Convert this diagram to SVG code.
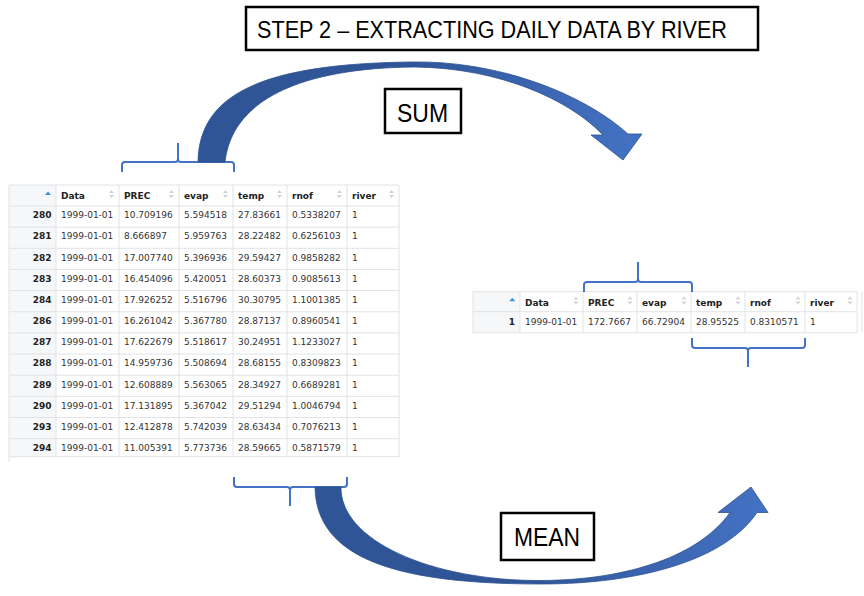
<svg xmlns="http://www.w3.org/2000/svg" width="864" height="596" viewBox="0 0 864 596">
<style>
.lbl{fill:#fff;stroke:#000;stroke-width:2.5}
.big{font-family:"Liberation Sans",Arial,sans-serif;fill:#000}
.grid{stroke:#e1e3e6;stroke-width:1;fill:none}
.idx{fill:#f5f7f9}
.t{font-family:"DejaVu Sans",Verdana,sans-serif;font-size:9px;fill:#333}
.h{font-family:"DejaVu Sans",Verdana,sans-serif;font-size:9px;font-weight:bold;fill:#222}
.n{font-family:"DejaVu Sans",Verdana,sans-serif;font-size:9px;font-weight:bold;fill:#222;text-anchor:end}
.br{fill:none;stroke:#4472C4;stroke-width:2;stroke-linejoin:round}
.srt{fill:#d0d3d6}
.asc{fill:#3b8fdc}
.arw{stroke:#2F528F;stroke-width:0.8}
</style>
<defs>
<linearGradient id="gTop" gradientUnits="userSpaceOnUse" x1="198" y1="0" x2="642" y2="0">
<stop offset="0" stop-color="#2F5597"/><stop offset="0.45" stop-color="#2F5597"/><stop offset="1" stop-color="#4472C4"/>
</linearGradient>
<linearGradient id="gBot" gradientUnits="userSpaceOnUse" x1="315" y1="0" x2="768" y2="0">
<stop offset="0" stop-color="#2F5597"/><stop offset="0.45" stop-color="#2F5597"/><stop offset="1" stop-color="#4472C4"/>
</linearGradient>
<g id="sortIcon"><path class="srt" d="M-2.5,-1 L2.5,-1 L0,-4 Z M-2.5,1 L2.5,1 L0,4 Z"/></g>
</defs>
<rect width="864" height="596" fill="#fff"/>

<g id="title">
<rect class="lbl" x="246" y="7" width="512" height="43"/>
<text class="big" x="257" y="38" font-size="23" textLength="470" lengthAdjust="spacingAndGlyphs">STEP 2 – EXTRACTING DAILY DATA BY RIVER</text>
</g>

<g id="table-left">
<rect x="9" y="185" width="390" height="271.7" fill="#fff"/>
<rect class="idx" x="9" y="185" width="47" height="271.7"/>
<path class="grid" d="M9,185 H399 M9,206 H399 M9,227.15 H399 M9,248.3 H399 M9,269.45 H399 M9,290.6 H399 M9,311.75 H399 M9,332.9 H399 M9,354.05 H399 M9,375.2 H399 M9,396.35 H399 M9,417.5 H399 M9,438.65 H399 M9,456.7 H399 M9,185 V461.7 M56,185 V456.7 M119,185 V456.7 M179,185 V456.7 M233,185 V456.7 M287,185 V456.7 M347,185 V456.7 M399,185 V456.7"/>
<path class="asc" d="M45,195 L51,195 L48,191.5 Z"/>
<use href="#sortIcon" x="111.5" y="194"/><use href="#sortIcon" x="171.5" y="194"/><use href="#sortIcon" x="225.5" y="194"/><use href="#sortIcon" x="279.5" y="194"/><use href="#sortIcon" x="339.5" y="194"/><use href="#sortIcon" x="391.5" y="194"/>
<text class="h" y="199.3"><tspan x="61">Data</tspan><tspan x="124">PREC</tspan><tspan x="184">evap</tspan><tspan x="238">temp</tspan><tspan x="292">rnof</tspan><tspan x="352">river</tspan></text>
<text class="n" x="51.5" y="218.3">280</text>
<text class="n" x="51.5" y="239.45">281</text>
<text class="n" x="51.5" y="260.6">282</text>
<text class="n" x="51.5" y="281.75">283</text>
<text class="n" x="51.5" y="302.9">284</text>
<text class="n" x="51.5" y="324.05">286</text>
<text class="n" x="51.5" y="345.2">287</text>
<text class="n" x="51.5" y="366.35">288</text>
<text class="n" x="51.5" y="387.5">289</text>
<text class="n" x="51.5" y="408.65">290</text>
<text class="n" x="51.5" y="429.8">293</text>
<text class="n" x="51.5" y="450.95">294</text>
<text class="t" y="218.3"><tspan x="61">1999-01-01</tspan><tspan x="124">10.709196</tspan><tspan x="184">5.594518</tspan><tspan x="238">27.83661</tspan><tspan x="292">0.5338207</tspan><tspan x="352">1</tspan></text>
<text class="t" y="239.45"><tspan x="61">1999-01-01</tspan><tspan x="124">8.666897</tspan><tspan x="184">5.959763</tspan><tspan x="238">28.22482</tspan><tspan x="292">0.6256103</tspan><tspan x="352">1</tspan></text>
<text class="t" y="260.6"><tspan x="61">1999-01-01</tspan><tspan x="124">17.007740</tspan><tspan x="184">5.396936</tspan><tspan x="238">29.59427</tspan><tspan x="292">0.9858282</tspan><tspan x="352">1</tspan></text>
<text class="t" y="281.75"><tspan x="61">1999-01-01</tspan><tspan x="124">16.454096</tspan><tspan x="184">5.420051</tspan><tspan x="238">28.60373</tspan><tspan x="292">0.9085613</tspan><tspan x="352">1</tspan></text>
<text class="t" y="302.9"><tspan x="61">1999-01-01</tspan><tspan x="124">17.926252</tspan><tspan x="184">5.516796</tspan><tspan x="238">30.30795</tspan><tspan x="292">1.1001385</tspan><tspan x="352">1</tspan></text>
<text class="t" y="324.05"><tspan x="61">1999-01-01</tspan><tspan x="124">16.261042</tspan><tspan x="184">5.367780</tspan><tspan x="238">28.87137</tspan><tspan x="292">0.8960541</tspan><tspan x="352">1</tspan></text>
<text class="t" y="345.2"><tspan x="61">1999-01-01</tspan><tspan x="124">17.622679</tspan><tspan x="184">5.518617</tspan><tspan x="238">30.24951</tspan><tspan x="292">1.1233027</tspan><tspan x="352">1</tspan></text>
<text class="t" y="366.35"><tspan x="61">1999-01-01</tspan><tspan x="124">14.959736</tspan><tspan x="184">5.508694</tspan><tspan x="238">28.68155</tspan><tspan x="292">0.8309823</tspan><tspan x="352">1</tspan></text>
<text class="t" y="387.5"><tspan x="61">1999-01-01</tspan><tspan x="124">12.608889</tspan><tspan x="184">5.563065</tspan><tspan x="238">28.34927</tspan><tspan x="292">0.6689281</tspan><tspan x="352">1</tspan></text>
<text class="t" y="408.65"><tspan x="61">1999-01-01</tspan><tspan x="124">17.131895</tspan><tspan x="184">5.367042</tspan><tspan x="238">29.51294</tspan><tspan x="292">1.0046794</tspan><tspan x="352">1</tspan></text>
<text class="t" y="429.8"><tspan x="61">1999-01-01</tspan><tspan x="124">12.412878</tspan><tspan x="184">5.742039</tspan><tspan x="238">28.63434</tspan><tspan x="292">0.7076213</tspan><tspan x="352">1</tspan></text>
<text class="t" y="450.95"><tspan x="61">1999-01-01</tspan><tspan x="124">11.005391</tspan><tspan x="184">5.773736</tspan><tspan x="238">28.59665</tspan><tspan x="292">0.5871579</tspan><tspan x="352">1</tspan></text>
</g>

<g id="table-right">
<rect x="473" y="291.7" width="384" height="41" fill="#fff"/>
<rect class="idx" x="473" y="291.7" width="47" height="41"/>
<path class="grid" d="M473,291.7 H857 M473,311.7 H857 M473,332.7 H857 M473,291.7 V332.7 M520,291.7 V332.7 M583,291.7 V332.7 M637,291.7 V332.7 M691,291.7 V332.7 M745,291.7 V332.7 M805,291.7 V332.7 M857,291.7 V332.7 M862,291.7 V332.7"/>
<path class="asc" d="M509.3,301.3 L515.3,301.3 L512.3,297.8 Z"/>
<use href="#sortIcon" x="576" y="300.5"/><use href="#sortIcon" x="630" y="300.5"/><use href="#sortIcon" x="684" y="300.5"/><use href="#sortIcon" x="738" y="300.5"/><use href="#sortIcon" x="798" y="300.5"/><use href="#sortIcon" x="850" y="300.5"/>
<text class="h" y="305.5"><tspan x="525">Data</tspan><tspan x="588">PREC</tspan><tspan x="642">evap</tspan><tspan x="696">temp</tspan><tspan x="750">rnof</tspan><tspan x="810">river</tspan></text>
<text class="n" x="515" y="325.2">1</text>
<text class="t" y="325.2"><tspan x="525">1999-01-01</tspan><tspan x="588">172.7667</tspan><tspan x="642">66.72904</tspan><tspan x="696">28.95525</tspan><tspan x="750">0.8310571</tspan><tspan x="810">1</tspan></text>
</g>

<g id="brace-left-top"><path class="br" d="M122,172 V165 Q122,162 125,162 H175 Q178,162 178,159 V143 M178,159 Q178,162 181,162 H231 Q234,162 234,165 V172"/></g>
<g id="brace-left-bottom"><path class="br" d="M234,477 V484 Q234,487 237,487 H287 Q290,487 290,490 V506 M290,490 Q290,487 293,487 H344 Q347,487 347,484 V477"/></g>
<g id="brace-right-top"><path class="br" d="M584,292 V285 Q584,282 587,282 H635 Q638,282 638,279 V262 M638,279 Q638,282 641,282 H689 Q692,282 692,285 V292"/></g>
<g id="brace-right-bottom"><path class="br" d="M692,338 V345 Q692,348 695,348 H745 Q748,348 748,351 V367 M748,351 Q748,348 751,348 H802 Q805,348 805,345 V338"/></g>

<g id="connectors">
<path id="arrow-sum" class="arw" fill="url(#gTop)" d="M198,162 C199,95 260,64 410,62 C500,60 585,95 628,134 L642,134 L623,160 L591,135 L603,135 C570,100 500,68 415,67 C300,68 232,100 225,162 Z"/>
<path id="arrow-mean" class="arw" fill="url(#gBot)" d="M315,487 C316,560 400,584 541,584 C640,584 725,560 757,512.5 L768,512.5 L751,487 L718,512.5 L730,512.5 C700,555 630,580 541,580.5 C430,581 340,540 341,487 Z"/>
</g>

<g id="sum-label">
<rect class="lbl" x="385" y="89" width="76" height="44"/>
<text class="big" x="397" y="121.7" font-size="25" textLength="51" lengthAdjust="spacingAndGlyphs">SUM</text>
</g>
<g id="mean-label">
<rect class="lbl" x="501" y="513" width="93" height="47"/>
<text class="big" x="514" y="545.5" font-size="25" textLength="66" lengthAdjust="spacingAndGlyphs">MEAN</text>
</g>
</svg>
